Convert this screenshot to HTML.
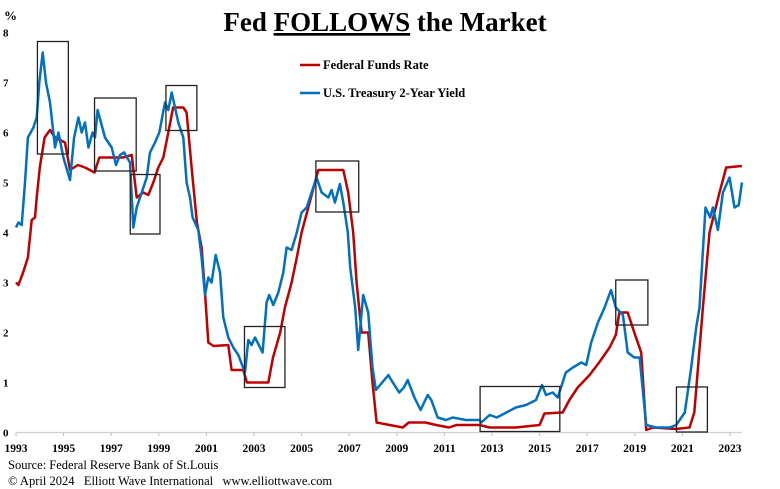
<!DOCTYPE html>
<html><head><meta charset="utf-8"><style>
body{margin:0;background:#fff;}
svg{display:block;font-family:"Liberation Serif",serif;}
</style></head><body>
<svg id="chart" width="780" height="489" viewBox="0 0 780 489">
<text x="385" y="31" text-anchor="middle" font-size="27" font-weight="bold">Fed <tspan text-decoration="underline">FOLLOWS</tspan> the Market</text>
<text x="4" y="20" font-size="13" font-weight="bold">%</text>
<g id="yticks"></g><g id="xticks"></g>
<line x1="16" y1="432.5" x2="742" y2="432.5" stroke="#d0d0d0" stroke-width="1.2"/>
<g id="series"></g><g id="boxes"></g>
<g>
<line x1="300" y1="65" x2="320" y2="65" stroke="#c00000" stroke-width="2.5"/>
<text x="323" y="69" font-size="12.5" font-weight="bold">Federal Funds Rate</text>
<line x1="300" y1="93" x2="320" y2="93" stroke="#0070c0" stroke-width="2.5"/>
<text x="323" y="97" font-size="12.5" font-weight="bold">U.S. Treasury 2-Year Yield</text>
</g>
<text x="8" y="469" font-size="12.5">Source: Federal Reserve Bank of St.Louis</text>
<text x="8" y="485" font-size="12.5" style="white-space:pre">© April 2024   Elliott Wave International   www.elliottwave.com</text>
</svg>
<script>
const yTicks=[0,1,2,3,4,5,6,7,8];
const xTicks=[1993,1995,1997,1999,2001,2003,2005,2007,2009,2011,2013,2015,2017,2019,2021,2023];
const fedYears=[1993,1993.1,1993.3,1993.5,1993.66,1993.8,1993.87,1994.0,1994.2,1994.43,1994.64,1995.06,1995.27,1995.6,1995.9,1996.3,1996.5,1997.0,1997.5,1997.86,1998.07,1998.35,1998.56,1998.77,1998.98,1999.19,1999.4,1999.6,2000.03,2000.17,2000.38,2000.6,2000.8,2000.94,2001.08,2001.3,2001.92,2002.06,2002.55,2002.7,2003.6,2003.8,2004.1,2004.3,2004.58,2004.8,2005.0,2005.28,2005.56,2005.7,2006.75,2006.96,2007.17,2007.31,2007.52,2007.8,2007.98,2008.15,2008.7,2009.25,2009.5,2010.2,2010.65,2011.2,2011.5,2012.47,2012.9,2014.0,2015.0,2015.2,2015.97,2016.25,2016.6,2017.1,2017.5,2017.94,2018.2,2018.35,2018.7,2018.98,2019.27,2019.48,2019.76,2020.74,2021.3,2021.5,2021.86,2022.14,2022.56,2022.7,2022.84,2023.5];
const fedValues=[3.0,2.95,3.2,3.5,4.25,4.3,4.7,5.3,5.9,6.05,5.9,5.8,5.25,5.35,5.3,5.2,5.5,5.5,5.5,5.55,4.7,4.8,4.75,5.0,5.3,5.5,6.0,6.5,6.5,6.4,5.3,4.2,3.7,2.8,1.8,1.73,1.75,1.25,1.25,1.0,1.0,1.5,2.0,2.5,3.0,3.5,4.0,4.5,5.0,5.25,5.25,4.8,4.0,3.0,2.0,2.0,1.0,0.2,0.15,0.1,0.2,0.2,0.15,0.1,0.15,0.15,0.1,0.1,0.15,0.38,0.4,0.65,0.9,1.15,1.4,1.7,1.95,2.4,2.4,2.0,1.6,0.05,0.1,0.07,0.1,0.4,2.5,4.0,4.8,5.05,5.3,5.33];
const tsyYears=[1993,1993.1,1993.24,1993.38,1993.5,1993.73,1993.87,1993.98,1994.12,1994.26,1994.43,1994.64,1994.78,1994.99,1995.27,1995.44,1995.62,1995.76,1995.9,1996.04,1996.22,1996.32,1996.43,1996.74,1997.02,1997.2,1997.37,1997.54,1997.79,1997.93,1998.07,1998.28,1998.49,1998.63,1998.84,1999.02,1999.26,1999.4,1999.54,1999.82,2000.03,2000.17,2000.31,2000.42,2000.66,2000.8,2000.94,2001.08,2001.22,2001.39,2001.57,2001.71,2001.92,2002.13,2002.34,2002.62,2002.76,2002.9,2003.04,2003.36,2003.53,2003.64,2003.81,2004.02,2004.23,2004.37,2004.58,2004.8,2005.0,2005.21,2005.42,2005.63,2005.84,2006.12,2006.26,2006.4,2006.61,2006.75,2006.94,2007.04,2007.25,2007.38,2007.59,2007.8,2007.98,2008.12,2008.3,2008.65,2008.7,2008.9,2009.1,2009.3,2009.46,2009.74,2010.0,2010.3,2010.45,2010.72,2011.07,2011.35,2011.9,2012.47,2012.55,2012.9,2013.2,2013.6,2014.0,2014.43,2014.85,2015.1,2015.27,2015.55,2015.76,2015.9,2016.1,2016.4,2016.75,2016.96,2017.17,2017.45,2017.73,2018.0,2018.2,2018.5,2018.7,2018.98,2019.2,2019.48,2019.9,2020.45,2020.74,2021.1,2021.37,2021.58,2021.72,2021.97,2022.17,2022.28,2022.49,2022.7,2022.98,2023.19,2023.37,2023.5];
const tsyValues=[4.1,4.2,4.15,5.0,5.9,6.1,6.3,7.0,7.6,7.0,6.6,5.7,6.0,5.5,5.05,5.9,6.3,6.0,6.2,5.7,6.0,5.9,6.45,5.9,5.7,5.35,5.55,5.6,5.4,4.1,4.5,4.8,5.1,5.6,5.8,6.0,6.6,6.45,6.8,6.2,5.9,5.0,4.7,4.3,4.05,3.5,2.75,3.1,3.0,3.55,3.2,2.3,1.9,1.7,1.55,1.2,1.85,1.75,1.9,1.6,2.6,2.75,2.55,2.8,3.2,3.7,3.65,4.0,4.4,4.5,4.8,5.1,4.8,4.7,4.85,4.6,4.97,4.6,4.0,3.3,2.5,1.65,2.75,2.4,1.3,0.85,0.95,1.15,1.1,0.95,0.8,0.9,1.05,0.7,0.45,0.75,0.65,0.3,0.25,0.3,0.25,0.25,0.2,0.35,0.3,0.4,0.5,0.55,0.65,0.95,0.75,0.8,0.7,0.9,1.2,1.3,1.4,1.35,1.8,2.2,2.5,2.85,2.5,2.35,1.6,1.5,1.5,0.15,0.1,0.1,0.15,0.4,1.3,2.1,2.5,4.5,4.3,4.5,4.05,4.8,5.1,4.5,4.55,5.0];
const boxStartYears=[1993.9,1996.3,1997.8,1999.3,2005.6,2002.6,2012.5,2018.2,2020.75];
const boxEndYears=[1995.2,1998.05,1999.05,2000.6,2007.4,2004.3,2015.85,2019.55,2022.05];
const boxLowValues=[5.57,5.23,3.97,6.04,4.41,0.9,0.02,2.15,0.01];
const boxHighValues=[7.82,6.69,5.16,6.94,5.43,2.12,0.92,3.05,0.91];

const X=y=>16+(y-1993)*23.8;
const Y=v=>432.5-v*50;
const NS="http://www.w3.org/2000/svg";
const yg=document.getElementById('yticks');
yTicks.forEach(t=>{const e=document.createElementNS(NS,'text');e.setAttribute('x',3);e.setAttribute('y',Y(t)+4);e.setAttribute('font-size','11');e.setAttribute('font-weight','bold');e.textContent=t;


yg.appendChild(e);});
const xg=document.getElementById('xticks');
xTicks.forEach(t=>{const e=document.createElementNS(NS,'text');e.setAttribute('x',X(t));e.setAttribute('y',452);e.setAttribute('text-anchor','middle');e.setAttribute('font-size','11.5');e.setAttribute('font-weight','bold');e.textContent=t;


xg.appendChild(e);
const l=document.createElementNS(NS,'line');l.setAttribute('x1',X(t));l.setAttribute('x2',X(t));l.setAttribute('y1',432.5);l.setAttribute('y2',436);l.setAttribute('stroke','#bbb');


xg.appendChild(l);});
const sg=document.getElementById('series');
function line(xs,vs,color,name){const p=document.createElementNS(NS,'polyline');p.setAttribute('points',xs.map((x,i)=>X(x).toFixed(1)+','+Y(vs[i]).toFixed(1)).join(' '));p.setAttribute('fill','none');p.setAttribute('stroke',color);p.setAttribute('stroke-width','2.5');p.setAttribute('stroke-linejoin','round');


sg.appendChild(p);}
line(fedYears,fedValues,'#c00000','fed-funds-rate-line');
line(tsyYears,tsyValues,'#0070c0','treasury-2yr-line');
const bg=document.getElementById('boxes');
boxStartYears.forEach((s,i)=>{const r=document.createElementNS(NS,'rect');r.setAttribute('x',X(s));r.setAttribute('y',Y(boxHighValues[i]));r.setAttribute('width',X(boxEndYears[i])-X(s));r.setAttribute('height',Y(boxLowValues[i])-Y(boxHighValues[i]));r.setAttribute('fill','none');r.setAttribute('stroke','#222');r.setAttribute('stroke-width','1.3');


bg.appendChild(r);});
</script>
</body></html>
